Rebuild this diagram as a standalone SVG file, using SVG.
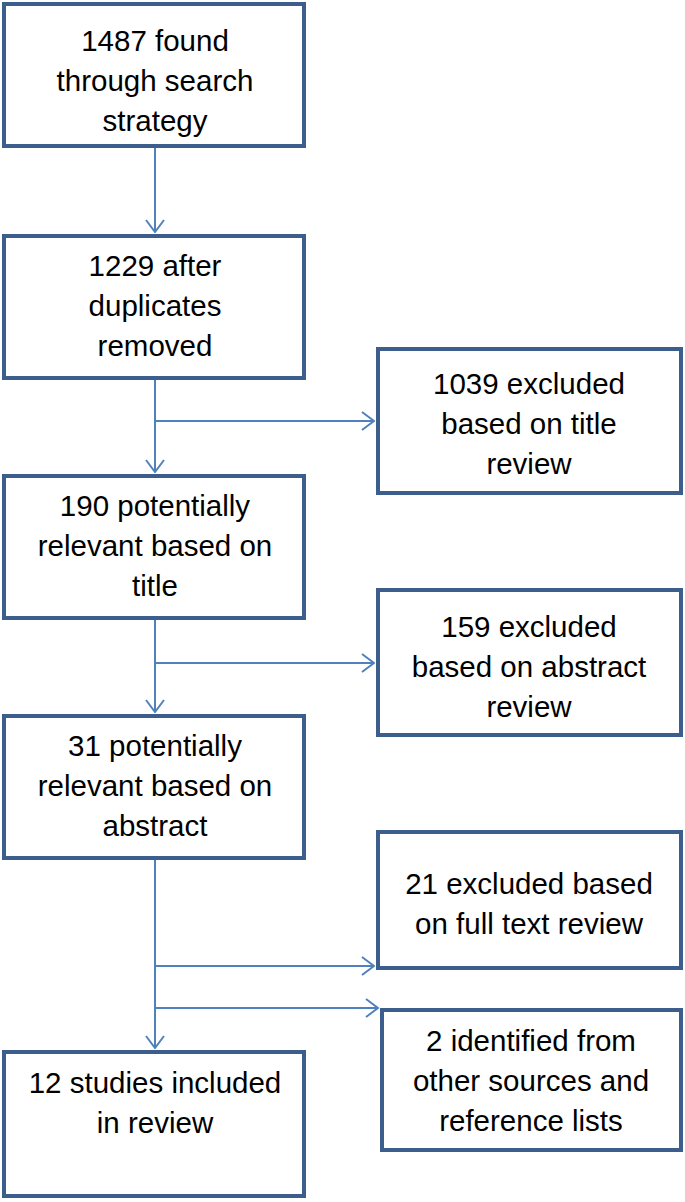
<svg xmlns="http://www.w3.org/2000/svg" width="685" height="1202" viewBox="0 0 685 1202">
<defs>
<style>
.box{fill:#fff;stroke:#3b5e8c;stroke-width:4}
.t{font-family:"Liberation Sans",Arial,sans-serif;font-size:29.5px;fill:#000;text-anchor:middle}
.c{fill:none;stroke:#4f81bd;stroke-width:2}
</style>
<marker id="ah" viewBox="0 0 14 20" refX="13" refY="10" markerWidth="14" markerHeight="20" markerUnits="userSpaceOnUse" orient="auto">
<path d="M1,1 L13,10 L1,19" fill="none" stroke="#4f81bd" stroke-width="2"/>
</marker>
</defs>
<g id="connectors">
<line class="c" x1="155" y1="146" x2="155" y2="232" marker-end="url(#ah)"/>
<line class="c" x1="155" y1="378" x2="155" y2="472" marker-end="url(#ah)"/>
<line class="c" x1="155" y1="421" x2="374" y2="421" marker-end="url(#ah)"/>
<line class="c" x1="155" y1="618" x2="155" y2="712" marker-end="url(#ah)"/>
<line class="c" x1="155" y1="663" x2="374" y2="663" marker-end="url(#ah)"/>
<line class="c" x1="155" y1="858" x2="155" y2="1048" marker-end="url(#ah)"/>
<line class="c" x1="155" y1="966" x2="374" y2="966" marker-end="url(#ah)"/>
<line class="c" x1="155" y1="1008" x2="378" y2="1008" marker-end="url(#ah)"/>
</g>
<g id="n1"><rect class="box" x="4" y="4" width="300" height="142"/>
<text class="t" x="155" y="51">1487 found</text><text class="t" x="155" y="91">through search</text><text class="t" x="155" y="131">strategy</text></g>
<g id="n2"><rect class="box" x="4" y="236" width="300" height="142"/>
<text class="t" x="155" y="276">1229 after</text><text class="t" x="155" y="316">duplicates</text><text class="t" x="155" y="356">removed</text></g>
<g id="n3"><rect class="box" x="378" y="349" width="303" height="144"/>
<text class="t" x="529" y="394">1039 excluded</text><text class="t" x="529" y="434">based on title</text><text class="t" x="529" y="474">review</text></g>
<g id="n4"><rect class="box" x="4" y="476" width="300" height="142"/>
<text class="t" x="155" y="516">190 potentially</text><text class="t" x="155" y="556">relevant based on</text><text class="t" x="155" y="596">title</text></g>
<g id="n5"><rect class="box" x="378" y="590" width="303" height="145"/>
<text class="t" x="529" y="637">159 excluded</text><text class="t" x="529" y="677">based on abstract</text><text class="t" x="529" y="717">review</text></g>
<g id="n6"><rect class="box" x="4" y="716" width="300" height="142"/>
<text class="t" x="155" y="756">31 potentially</text><text class="t" x="155" y="796">relevant based on</text><text class="t" x="155" y="836">abstract</text></g>
<g id="n7"><rect class="box" x="378" y="832" width="303" height="136"/>
<text class="t" x="529" y="894">21 excluded based</text><text class="t" x="529" y="934">on full text review</text></g>
<g id="n8"><rect class="box" x="382" y="1010" width="299" height="140"/>
<text class="t" x="531" y="1051">2 identified from</text><text class="t" x="531" y="1091">other sources and</text><text class="t" x="531" y="1131">reference lists</text></g>
<g id="n9"><rect class="box" x="4" y="1052" width="300" height="144"/>
<text class="t" x="155" y="1093">12 studies included</text><text class="t" x="155" y="1133">in review</text></g>
</svg>
